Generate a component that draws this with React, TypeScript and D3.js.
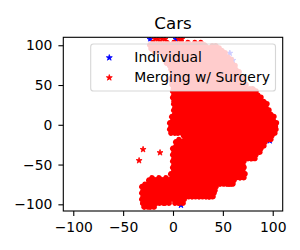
import React, { useEffect, useRef } from 'react';
import * as d3 from 'd3';

const xTicks = [-100, -50, 0, 50, 100];
const yTicks = [-100, -50, 0, 50, 100];
const seriesNames = ['Individual', 'Merging w/ Surgery'];
const seriesColors = ['#0000ff', '#ff0000'];

// blue stars that still show from under the red cloud
const individualPts: [number, number][] = [
  [-23, 107.5], [3, 107.5], [57, 90], [60, 81], [97, -20], [103, 1], [-1, -92], [8, -101],
];

// red stars lying on their own
const mergeStray: [number, number][] = [
  [-18, 108], [-15, 107.5], [-11, 108], [-8, 107.5], [6, 107.5], [9, 108],
  [-30, -31], [-13, -35], [-34, -45],
];

// the packed red cloud, row by row: [y, x values]
const mergeRows: [number, number[]][] = [
  [99, [-20, -13, -6, 1, 8, 15, 22, 28]],
  [95, [-16.5, -9.5, -2.5, 4.5, 11.5, 18.5, 25.5, 32.5, 39.5, 43]],
  [89, [-7, 0, 7, 14, 21, 28, 35, 42, 49]],
  [81, [-4.5, 2.5, 9.5, 16.5, 23.5, 30.5, 37.5, 44.5, 51.5, 55]],
  [73, [0, 7, 14, 21, 28, 35, 42, 49, 56, 59]],
  [65, [2.5, 9.5, 16.5, 23.5, 30.5, 37.5, 44.5, 51.5, 58.5, 63]],
  [57, [1, 7, 14, 21, 28, 35, 42, 49, 56, 63, 66]],
  [49, [2.5, 9.5, 16.5, 23.5, 30.5, 37.5, 44.5, 51.5, 58.5, 65.5, 70]],
  [41, [3, 7, 14, 21, 28, 35, 42, 49, 56, 63, 70, 77, 80]],
  [33, [3, 9.5, 16.5, 23.5, 30.5, 37.5, 44.5, 51.5, 58.5, 65.5, 72.5, 79.5, 85]],
  [25, [4, 7, 14, 21, 28, 35, 42, 49, 56, 63, 70, 77, 84, 91]],
  [17, [4, 9.5, 16.5, 23.5, 30.5, 37.5, 44.5, 51.5, 58.5, 65.5, 72.5, 79.5, 86.5, 93]],
  [9, [2, 7, 14, 21, 28, 35, 42, 49, 56, 63, 70, 77, 84, 91, 98]],
  [1, [0, 2.5, 9.5, 16.5, 23.5, 30.5, 37.5, 44.5, 51.5, 58.5, 65.5, 72.5, 79.5, 86.5, 93.5, 100.5]],
  [-7, [0, 7, 14, 21, 28, 35, 42, 49, 56, 63, 70, 77, 84, 91, 98, 100]],
  [-15, [14, 16.5, 23.5, 30.5, 37.5, 44.5, 51.5, 58.5, 65.5, 72.5, 79.5, 86.5, 93.5, 96]],
  [-23, [6, 14, 21, 28, 35, 42, 49, 56, 63, 70, 77, 84, 89]],
  [-31, [3, 9.5, 16.5, 23.5, 30.5, 37.5, 44.5, 51.5, 58.5, 65.5, 72.5, 79.5, 85]],
  [-39, [3, 7, 14, 21, 28, 35, 42, 49, 56, 63, 70, 77, 80]],
  [-47, [3, 9.5, 16.5, 23.5, 30.5, 37.5, 44.5, 51.5, 58.5, 65.5, 68]],
  [-55, [3, 7, 14, 21, 28, 35, 42, 49, 56, 63, 68]],
  [-63, [1, 9.5, 16.5, 23.5, 30.5, 37.5, 44.5, 51.5, 58.5, 65.5, 69]],
  [-71, [-21, -14, -7, 0, 7, 14, 21, 28, 35, 42, 49, 56, 58]],
  [-79, [-28, -25.5, -18.5, -11.5, -4.5, 2.5, 9.5, 16.5, 23.5, 30.5, 37.5, 40]],
  [-87, [-28, -21, -14, -7, 0, 7, 14, 21, 28, 35, 38]],
  [-95, [-28, -25.5, -18.5, -11.5, -6, 4, 8]],
  [-100, [-27, -21]],
];

const W = 300;
const H = 250;
const box = { left: 63.3, right: 282.7, top: 37.3, bottom: 211 };
const font = '"DejaVu Sans", sans-serif';

const App = () => {
  const ref = useRef<SVGSVGElement>(null);

  useEffect(() => {
    const svg = d3.select(ref.current);
    svg.selectAll('*').remove();

    const x = d3.scaleLinear().domain([-110, 110]).range([box.left, box.right]);
    const y = d3.scaleLinear().domain([-108.4, 110]).range([box.bottom, box.top]);

    const star = d3.symbol().type(d3.symbolStar).size(11);
    const fmt = (d: number) => (d < 0 ? '\u2212' + Math.abs(d) : String(d));

    svg.append('clipPath').attr('id', 'plot-clip')
      .append('rect')
      .attr('x', box.left).attr('y', box.top)
      .attr('width', box.right - box.left).attr('height', box.bottom - box.top);

    const plot = svg.append('g').attr('clip-path', 'url(#plot-clip)');

    plot.selectAll('path.ind')
      .data(individualPts)
      .join('path')
      .attr('class', 'ind')
      .attr('d', star)
      .attr('transform', (d) => `translate(${x(d[0])},${y(d[1])})`)
      .attr('fill', seriesColors[0])
      .attr('stroke', seriesColors[0])
      .attr('stroke-width', 0.8);

    const cloud = mergeRows.flatMap(([yy, xs]) => xs.map((xx) => [xx, yy] as [number, number]));

    plot.selectAll('path.cloud')
      .data(cloud)
      .join('path')
      .attr('class', 'cloud')
      .attr('d', star)
      .attr('transform', (d) => `translate(${x(d[0])},${y(d[1])})`)
      .attr('fill', seriesColors[1])
      .attr('stroke', seriesColors[1])
      .attr('stroke-width', 6)
      .attr('stroke-linejoin', 'round');

    plot.selectAll('path.stray')
      .data(mergeStray)
      .join('path')
      .attr('class', 'stray')
      .attr('d', star)
      .attr('transform', (d) => `translate(${x(d[0])},${y(d[1])})`)
      .attr('fill', seriesColors[1])
      .attr('stroke', seriesColors[1])
      .attr('stroke-width', 0.8);

    // axes
    const xAxis = svg.append('g')
      .attr('transform', `translate(0,${box.bottom})`)
      .call(d3.axisBottom(x).tickValues(xTicks).tickSize(4.9).tickPadding(5.8).tickFormat(fmt as any));
    const yAxis = svg.append('g')
      .attr('transform', `translate(${box.left},0)`)
      .call(d3.axisLeft(y).tickValues(yTicks).tickSize(4.9).tickPadding(6).tickFormat(fmt as any));

    [xAxis, yAxis].forEach((g) => {
      g.select('.domain').remove();
      g.selectAll('line').attr('stroke', '#000').attr('stroke-width', 1.1);
      g.selectAll('text').attr('fill', '#000').style('font-family', font).style('font-size', '13.9px');
    });

    svg.append('rect')
      .attr('x', box.left).attr('y', box.top)
      .attr('width', box.right - box.left).attr('height', box.bottom - box.top)
      .attr('fill', 'none').attr('stroke', '#000').attr('stroke-width', 1.1);

    svg.append('text')
      .attr('x', (box.left + box.right) / 2)
      .attr('y', 29)
      .attr('text-anchor', 'middle')
      .style('font-family', font)
      .style('font-size', '16.7px')
      .text('Cars');

    // legend: the washed-out patch reaches a little above its frame line
    const lg = svg.append('g');
    lg.append('rect')
      .attr('x', 90.7).attr('y', 41.2)
      .attr('width', 184.8).attr('height', 49.8)
      .attr('rx', 2.8)
      .attr('fill', '#fff').attr('fill-opacity', 0.8);
    lg.append('rect')
      .attr('x', 90.7).attr('y', 44)
      .attr('width', 184.8).attr('height', 47)
      .attr('rx', 2.8)
      .attr('fill', 'none')
      .attr('stroke', '#ccc').attr('stroke-opacity', 0.8).attr('stroke-width', 1.1);

    seriesNames.forEach((name, i) => {
      const cy = 57.7 + i * 20;
      lg.append('path')
        .attr('d', star)
        .attr('transform', `translate(109.3,${cy})`)
        .attr('fill', seriesColors[i])
        .attr('stroke', seriesColors[i])
        .attr('stroke-width', 0.8);
      lg.append('text')
        .attr('x', 134.3)
        .attr('y', cy + 4.2)
        .style('font-family', font)
        .style('font-size', '13.9px')
        .text(name);
    });
  }, []);

  return (
    <svg
      ref={ref}
      width={W}
      height={H}
      style={{ position: 'absolute', left: 0, top: 0, background: '#fff' }}
    />
  );
};

export default App;
